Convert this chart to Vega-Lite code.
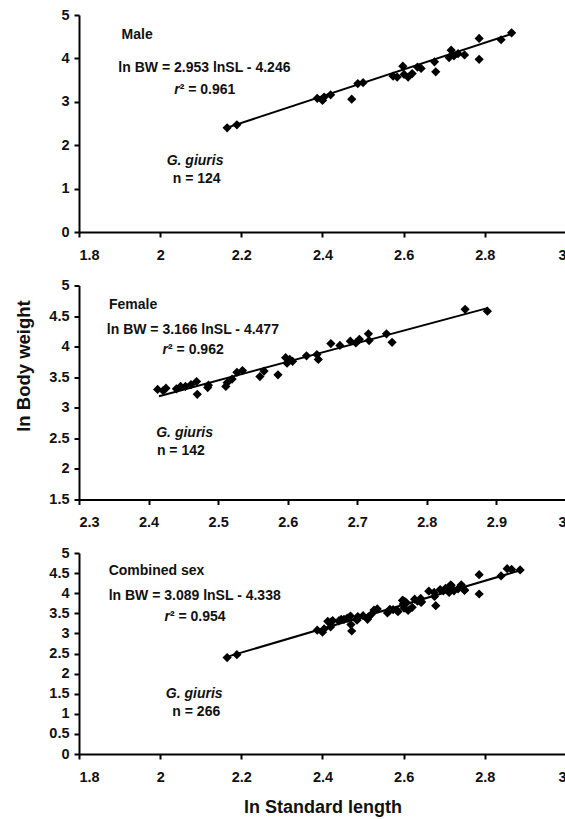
{
  "$schema": "https://vega.github.io/schema/vega-lite/v6.json",
  "padding": {"left": 13, "top": 7, "right": 0, "bottom": 0},
  "background": "white",
  "spacing": 15.5,
  "datasets": {
    "fish": [
      {"sex": "Male", "sl": 2.165, "bw": 2.40},
      {"sex": "Male", "sl": 2.189, "bw": 2.47},
      {"sex": "Male", "sl": 2.387, "bw": 3.08},
      {"sex": "Male", "sl": 2.400, "bw": 3.03},
      {"sex": "Male", "sl": 2.404, "bw": 3.11},
      {"sex": "Male", "sl": 2.420, "bw": 3.16},
      {"sex": "Male", "sl": 2.472, "bw": 3.06},
      {"sex": "Male", "sl": 2.487, "bw": 3.42},
      {"sex": "Male", "sl": 2.500, "bw": 3.44},
      {"sex": "Male", "sl": 2.574, "bw": 3.59},
      {"sex": "Male", "sl": 2.584, "bw": 3.57},
      {"sex": "Male", "sl": 2.598, "bw": 3.82},
      {"sex": "Male", "sl": 2.601, "bw": 3.63},
      {"sex": "Male", "sl": 2.611, "bw": 3.57},
      {"sex": "Male", "sl": 2.621, "bw": 3.65},
      {"sex": "Male", "sl": 2.634, "bw": 3.80},
      {"sex": "Male", "sl": 2.643, "bw": 3.77},
      {"sex": "Male", "sl": 2.676, "bw": 3.92},
      {"sex": "Male", "sl": 2.679, "bw": 3.69},
      {"sex": "Male", "sl": 2.712, "bw": 4.02},
      {"sex": "Male", "sl": 2.717, "bw": 4.19},
      {"sex": "Male", "sl": 2.724, "bw": 4.06},
      {"sex": "Male", "sl": 2.734, "bw": 4.11},
      {"sex": "Male", "sl": 2.750, "bw": 4.08},
      {"sex": "Male", "sl": 2.786, "bw": 3.98},
      {"sex": "Male", "sl": 2.786, "bw": 4.46},
      {"sex": "Male", "sl": 2.840, "bw": 4.43},
      {"sex": "Male", "sl": 2.866, "bw": 4.59},
      {"sex": "Female", "sl": 2.413, "bw": 3.30},
      {"sex": "Female", "sl": 2.421, "bw": 3.28},
      {"sex": "Female", "sl": 2.425, "bw": 3.32},
      {"sex": "Female", "sl": 2.440, "bw": 3.31},
      {"sex": "Female", "sl": 2.446, "bw": 3.35},
      {"sex": "Female", "sl": 2.453, "bw": 3.35},
      {"sex": "Female", "sl": 2.461, "bw": 3.38},
      {"sex": "Female", "sl": 2.469, "bw": 3.43},
      {"sex": "Female", "sl": 2.470, "bw": 3.22},
      {"sex": "Female", "sl": 2.485, "bw": 3.33},
      {"sex": "Female", "sl": 2.486, "bw": 3.37},
      {"sex": "Female", "sl": 2.511, "bw": 3.35},
      {"sex": "Female", "sl": 2.513, "bw": 3.41},
      {"sex": "Female", "sl": 2.520, "bw": 3.47},
      {"sex": "Female", "sl": 2.527, "bw": 3.58},
      {"sex": "Female", "sl": 2.535, "bw": 3.61},
      {"sex": "Female", "sl": 2.560, "bw": 3.51},
      {"sex": "Female", "sl": 2.566, "bw": 3.60},
      {"sex": "Female", "sl": 2.586, "bw": 3.54},
      {"sex": "Female", "sl": 2.597, "bw": 3.82},
      {"sex": "Female", "sl": 2.599, "bw": 3.73},
      {"sex": "Female", "sl": 2.603, "bw": 3.79},
      {"sex": "Female", "sl": 2.607, "bw": 3.76},
      {"sex": "Female", "sl": 2.627, "bw": 3.85},
      {"sex": "Female", "sl": 2.642, "bw": 3.87},
      {"sex": "Female", "sl": 2.644, "bw": 3.79},
      {"sex": "Female", "sl": 2.662, "bw": 4.05},
      {"sex": "Female", "sl": 2.675, "bw": 4.02},
      {"sex": "Female", "sl": 2.690, "bw": 4.09},
      {"sex": "Female", "sl": 2.698, "bw": 4.06},
      {"sex": "Female", "sl": 2.703, "bw": 4.12},
      {"sex": "Female", "sl": 2.716, "bw": 4.21},
      {"sex": "Female", "sl": 2.717, "bw": 4.10},
      {"sex": "Female", "sl": 2.742, "bw": 4.21},
      {"sex": "Female", "sl": 2.750, "bw": 4.07},
      {"sex": "Female", "sl": 2.855, "bw": 4.61},
      {"sex": "Female", "sl": 2.887, "bw": 4.58}
    ],
    "fits": [
      {"panel": "Male", "sl": 2.163, "bw": 2.40},
      {"panel": "Male", "sl": 2.862, "bw": 4.55},
      {"panel": "Female", "sl": 2.415, "bw": 3.19},
      {"panel": "Female", "sl": 2.887, "bw": 4.63},
      {"panel": "Combined", "sl": 2.162, "bw": 2.41},
      {"panel": "Combined", "sl": 2.888, "bw": 4.57}
    ],
    "notes": [
      {"panel": "Male", "kind": "left", "sl": 1.905, "bw": 4.55, "label": "Male"},
      {"panel": "Male", "kind": "left", "sl": 1.897, "bw": 3.78, "label": "ln BW = 2.953 lnSL - 4.246"},
      {"panel": "Male", "kind": "r", "sl": 2.048, "bw": 3.27, "label": "r"},
      {"panel": "Male", "kind": "left", "sl": 2.048, "bw": 3.27, "label": "² = 0.961"},
      {"panel": "Male", "kind": "sp", "sl": 2.086, "bw": 1.64, "label": "G. giuris"},
      {"panel": "Male", "kind": "n", "sl": 2.090, "bw": 1.22, "label": "n = 124"},
      {"panel": "Female", "kind": "left", "sl": 2.343, "bw": 4.68, "label": "Female"},
      {"panel": "Female", "kind": "left", "sl": 2.340, "bw": 4.27, "label": "ln BW = 3.166 lnSL - 4.477"},
      {"panel": "Female", "kind": "r", "sl": 2.428, "bw": 3.94, "label": "r"},
      {"panel": "Female", "kind": "left", "sl": 2.428, "bw": 3.94, "label": "² = 0.962"},
      {"panel": "Female", "kind": "spl", "sl": 2.411, "bw": 2.59, "label": "G. giuris"},
      {"panel": "Female", "kind": "left", "sl": 2.412, "bw": 2.29, "label": "n = 142"},
      {"panel": "Combined", "kind": "left", "sl": 1.873, "bw": 4.56, "label": "Combined sex"},
      {"panel": "Combined", "kind": "left", "sl": 1.873, "bw": 3.94, "label": "ln BW = 3.089 lnSL - 4.338"},
      {"panel": "Combined", "kind": "r", "sl": 2.024, "bw": 3.40, "label": "r"},
      {"panel": "Combined", "kind": "left", "sl": 2.024, "bw": 3.40, "label": "² = 0.954"},
      {"panel": "Combined", "kind": "sp", "sl": 2.084, "bw": 1.50, "label": "G. giuris"},
      {"panel": "Combined", "kind": "n", "sl": 2.089, "bw": 1.05, "label": "n = 266"}
    ]
  },
  "config": {
    "view": {"stroke": null},
    "axis": {
      "grid": false,
      "domainColor": "black",
      "domainWidth": 2,
      "tickColor": "black",
      "tickWidth": 2,
      "tickSize": 5,
      "labelOverlap": false,
      "labelFont": "Liberation Sans",
      "labelFontWeight": "bold",
      "labelFontSize": 14.5,
      "labelColor": "#111111",
      "titleFont": "Liberation Sans",
      "titleFontWeight": "bold",
      "titleFontSize": 18,
      "titleColor": "#111111"
    },
    "axisX": {"labelPadding": 11},
    "axisY": {"labelPadding": 5},
    "text": {"font": "Liberation Sans", "fontSize": 14, "fontWeight": "bold", "color": "#111111", "baseline": "middle"}
  },
  "vconcat": [
    {
      "width": 487,
      "height": 217,
      "layer": [
        {
          "data": {"name": "fish"},
          "transform": [{"filter": "datum.sex === 'Male'"}],
          "mark": {"type": "point", "shape": "diamond", "filled": true, "color": "black", "size": 85, "opacity": 1},
          "encoding": {
            "x": {"field": "sl", "type": "quantitative", "scale": {"domain": [1.8, 3], "nice": false, "zero": false}, "axis": {"values": [1.8, 2, 2.2, 2.4, 2.6, 2.8, 3], "tickCount": 20, "format": ".1~f", "labelOverlap": false, "title": null}},
            "y": {"field": "bw", "type": "quantitative", "scale": {"domain": [0, 5], "nice": false}, "axis": {"values": [0, 1, 2, 3, 4, 5], "tickCount": 20, "format": ".1~f", "labelOverlap": false, "title": null}}
          }
        },
        {
          "data": {"name": "fits"},
          "transform": [{"filter": "datum.panel === 'Male'"}],
          "mark": {"type": "line", "color": "black", "strokeWidth": 2},
          "encoding": {"x": {"field": "sl", "type": "quantitative"}, "y": {"field": "bw", "type": "quantitative"}}
        },
        {
          "data": {"name": "notes"},
          "transform": [{"filter": "datum.panel === 'Male' && datum.kind === 'left'"}],
          "mark": {"type": "text", "align": "left"},
          "encoding": {"x": {"field": "sl", "type": "quantitative"}, "y": {"field": "bw", "type": "quantitative"}, "text": {"field": "label"}}
        },
        {
          "data": {"name": "notes"},
          "transform": [{"filter": "datum.panel === 'Male' && datum.kind === 'r'"}],
          "mark": {"type": "text", "align": "right", "fontStyle": "italic"},
          "encoding": {"x": {"field": "sl", "type": "quantitative"}, "y": {"field": "bw", "type": "quantitative"}, "text": {"field": "label"}}
        },
        {
          "data": {"name": "notes"},
          "transform": [{"filter": "datum.panel === 'Male' && datum.kind === 'sp'"}],
          "mark": {"type": "text", "align": "center", "fontStyle": "italic"},
          "encoding": {"x": {"field": "sl", "type": "quantitative"}, "y": {"field": "bw", "type": "quantitative"}, "text": {"field": "label"}}
        },
        {
          "data": {"name": "notes"},
          "transform": [{"filter": "datum.panel === 'Male' && datum.kind === 'n'"}],
          "mark": {"type": "text", "align": "center"},
          "encoding": {"x": {"field": "sl", "type": "quantitative"}, "y": {"field": "bw", "type": "quantitative"}, "text": {"field": "label"}}
        }
      ]
    },
    {
      "width": 487,
      "height": 214,
      "layer": [
        {
          "data": {"name": "fish"},
          "transform": [{"filter": "datum.sex === 'Female'"}],
          "mark": {"type": "point", "shape": "diamond", "filled": true, "color": "black", "size": 85, "opacity": 1},
          "encoding": {
            "x": {"field": "sl", "type": "quantitative", "scale": {"domain": [2.3, 3], "nice": false, "zero": false}, "axis": {"values": [2.3, 2.4, 2.5, 2.6, 2.7, 2.8, 2.9, 3], "tickCount": 20, "format": ".1~f", "labelOverlap": false, "title": null}},
            "y": {"field": "bw", "type": "quantitative", "scale": {"domain": [1.5, 5], "nice": false, "zero": false}, "axis": {"values": [1.5, 2, 2.5, 3, 3.5, 4, 4.5, 5], "tickCount": 20, "format": ".1~f", "labelOverlap": false, "title": "ln Body weight", "titleX": -56, "titleY": 80, "titleBaseline": "middle", "titleFontSize": 18.5}}
          }
        },
        {
          "data": {"name": "fits"},
          "transform": [{"filter": "datum.panel === 'Female'"}],
          "mark": {"type": "line", "color": "black", "strokeWidth": 2},
          "encoding": {"x": {"field": "sl", "type": "quantitative"}, "y": {"field": "bw", "type": "quantitative"}}
        },
        {
          "data": {"name": "notes"},
          "transform": [{"filter": "datum.panel === 'Female' && datum.kind === 'left'"}],
          "mark": {"type": "text", "align": "left"},
          "encoding": {"x": {"field": "sl", "type": "quantitative"}, "y": {"field": "bw", "type": "quantitative"}, "text": {"field": "label"}}
        },
        {
          "data": {"name": "notes"},
          "transform": [{"filter": "datum.panel === 'Female' && datum.kind === 'r'"}],
          "mark": {"type": "text", "align": "right", "fontStyle": "italic"},
          "encoding": {"x": {"field": "sl", "type": "quantitative"}, "y": {"field": "bw", "type": "quantitative"}, "text": {"field": "label"}}
        },
        {
          "data": {"name": "notes"},
          "transform": [{"filter": "datum.panel === 'Female' && datum.kind === 'spl'"}],
          "mark": {"type": "text", "align": "left", "fontStyle": "italic"},
          "encoding": {"x": {"field": "sl", "type": "quantitative"}, "y": {"field": "bw", "type": "quantitative"}, "text": {"field": "label"}}
        }
      ]
    },
    {
      "width": 487,
      "height": 201,
      "layer": [
        {
          "data": {"name": "fish"},
          "mark": {"type": "point", "shape": "diamond", "filled": true, "color": "black", "size": 85, "opacity": 1},
          "encoding": {
            "x": {"field": "sl", "type": "quantitative", "scale": {"domain": [1.8, 3], "nice": false, "zero": false}, "axis": {"values": [1.8, 2, 2.2, 2.4, 2.6, 2.8, 3], "tickCount": 20, "format": ".1~f", "labelOverlap": false, "title": "ln Standard length", "titlePadding": 15}},
            "y": {"field": "bw", "type": "quantitative", "scale": {"domain": [0, 5], "nice": false}, "axis": {"values": [0, 0.5, 1, 1.5, 2, 2.5, 3, 3.5, 4, 4.5, 5], "tickCount": 20, "format": ".1~f", "labelOverlap": false, "title": null}}
          }
        },
        {
          "data": {"name": "fits"},
          "transform": [{"filter": "datum.panel === 'Combined'"}],
          "mark": {"type": "line", "color": "black", "strokeWidth": 2},
          "encoding": {"x": {"field": "sl", "type": "quantitative"}, "y": {"field": "bw", "type": "quantitative"}}
        },
        {
          "data": {"name": "notes"},
          "transform": [{"filter": "datum.panel === 'Combined' && datum.kind === 'left'"}],
          "mark": {"type": "text", "align": "left"},
          "encoding": {"x": {"field": "sl", "type": "quantitative"}, "y": {"field": "bw", "type": "quantitative"}, "text": {"field": "label"}}
        },
        {
          "data": {"name": "notes"},
          "transform": [{"filter": "datum.panel === 'Combined' && datum.kind === 'r'"}],
          "mark": {"type": "text", "align": "right", "fontStyle": "italic"},
          "encoding": {"x": {"field": "sl", "type": "quantitative"}, "y": {"field": "bw", "type": "quantitative"}, "text": {"field": "label"}}
        },
        {
          "data": {"name": "notes"},
          "transform": [{"filter": "datum.panel === 'Combined' && datum.kind === 'sp'"}],
          "mark": {"type": "text", "align": "center", "fontStyle": "italic"},
          "encoding": {"x": {"field": "sl", "type": "quantitative"}, "y": {"field": "bw", "type": "quantitative"}, "text": {"field": "label"}}
        },
        {
          "data": {"name": "notes"},
          "transform": [{"filter": "datum.panel === 'Combined' && datum.kind === 'n'"}],
          "mark": {"type": "text", "align": "center"},
          "encoding": {"x": {"field": "sl", "type": "quantitative"}, "y": {"field": "bw", "type": "quantitative"}, "text": {"field": "label"}}
        }
      ]
    }
  ]
}
